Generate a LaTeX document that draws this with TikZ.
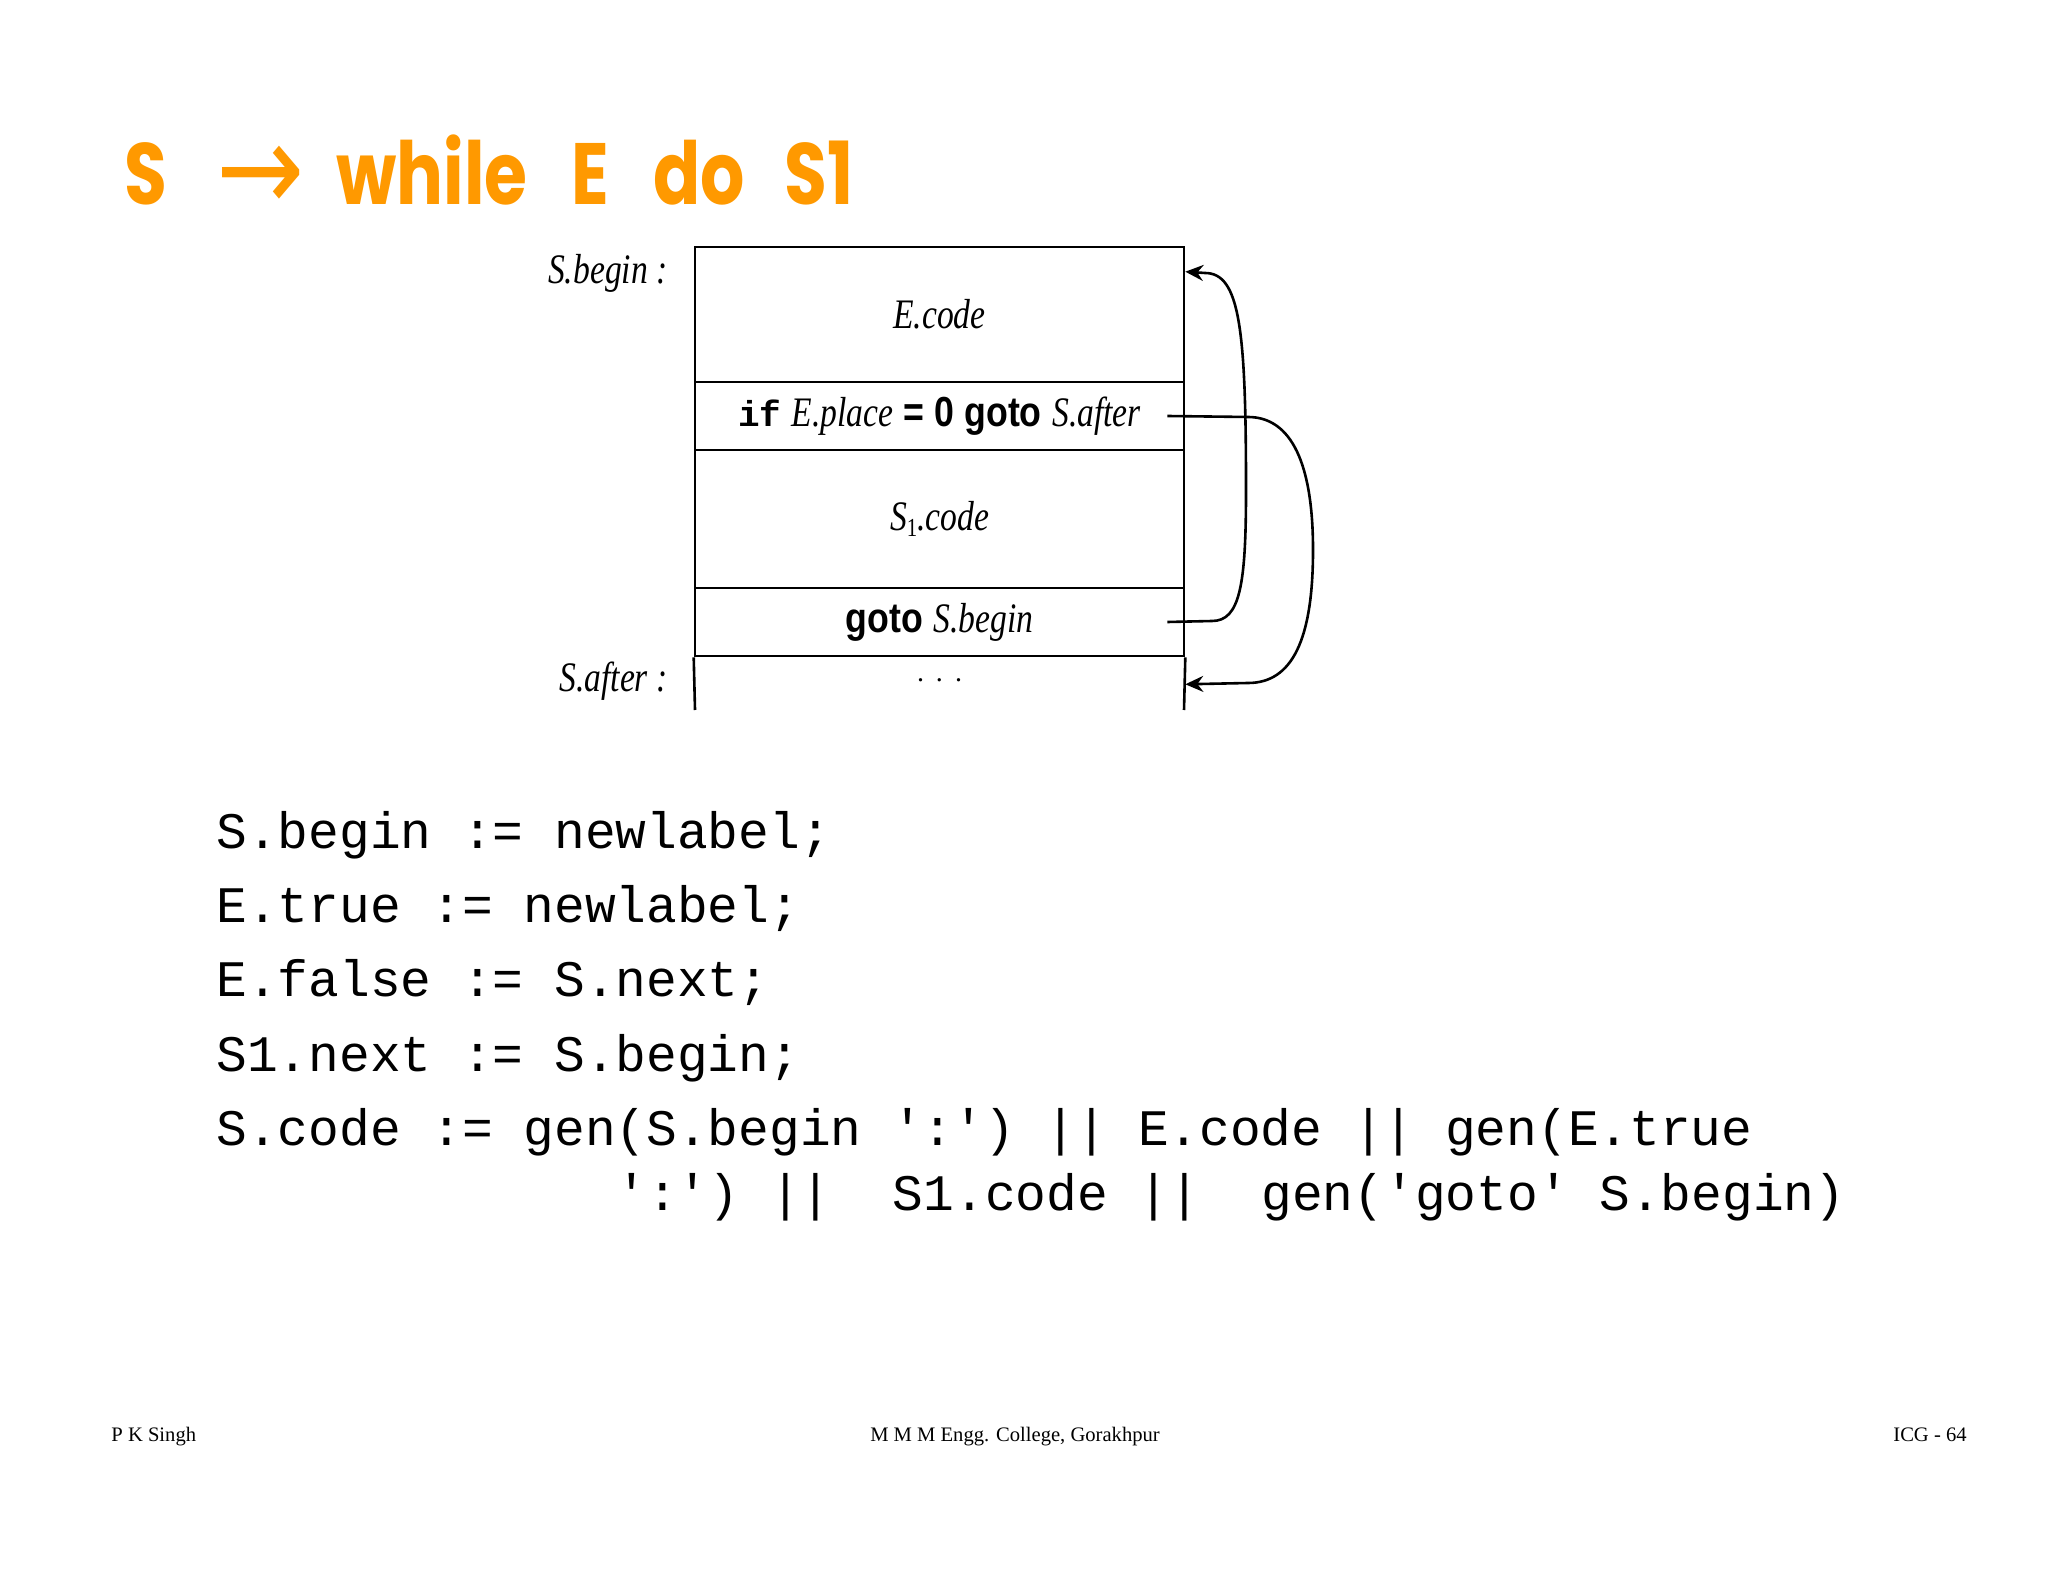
\documentclass[tikz,border=0pt]{standalone}
\usepackage{fontspec}
\setmainfont{Liberation Serif}
\setmonofont{Liberation Mono}
\newfontfamily\titlefont[FakeStretch=0.8]{Poppins}
\newfontfamily\arrowfont[FakeStretch=0.85]{DejaVu Sans}
\newfontfamily\diagit[FakeStretch=0.8]{Liberation Serif}
\newfontfamily\diagkw[FakeStretch=0.85]{Liberation Sans}
\usetikzlibrary{arrows.meta}
\definecolor{titleorange}{RGB}{255,153,0}
\tikzset{
  titletext/.style={anchor=base west, inner sep=0pt, text=titleorange, font=\titlefont\bfseries\fontsize{43.5}{50}\selectfont},
  row/.style={draw, line width=1.3pt, minimum width=244.5pt, inner sep=0pt, font=\fontsize{21}{25}\selectfont},
  sidelabel/.style={anchor=east, inner sep=0pt, font=\diagit\itshape\fontsize{21}{25}\selectfont},
  codeline/.style={anchor=base west, inner sep=0pt, font=\ttfamily\fontsize{25.6}{30}\selectfont},
  foot/.style={anchor=base, inner sep=0pt, font=\fontsize{10.3}{12}\selectfont},
  jump/.style={line width=1.3pt, -{Stealth[length=9pt,width=8pt,inset=3pt]}},
}
\begin{document}
\begin{tikzpicture}[x=0.5pt,y=-0.5pt]
\useasboundingbox[fill=white] (0,0) rectangle (2048,1582);

% title
\node[titletext] (tS) at (124,205) {S};
\node[anchor=base west, inner sep=0pt, text=titleorange, font=\arrowfont\fontsize{62}{66}\selectfont] (tarrow) at (216,212) {→};
\node[titletext] (twhile) at (336,205) {while};
\node[titletext] (tE) at (571,205) {E};
\node[titletext] (tdo) at (653,205) {do};
\node[titletext] (tS1) at (784,205) {S1};

% diagram rows
\node[row, minimum height=67.5pt] (ecode) at (939.5,314.5) {\diagit\itshape E.code};
\node[row, minimum height=34pt] (ifrow) at (939.5,416) {{\ttfamily\bfseries\fontsize{18}{20}\selectfont if} {\diagit\itshape E.place} {\diagkw\bfseries = 0 goto} {\diagit\itshape S.after}};
\node[row, minimum height=69pt] (s1code) at (939.5,519) {\diagit\itshape S\raisebox{-0.35ex}{\upshape\fontsize{13}{13}\selectfont 1}.code};
\node[row, minimum height=34pt] (gotorow) at (939.5,622) {{\diagkw\bfseries goto} {\diagit\itshape S.begin}};
\node[inner sep=0pt, font=\fontsize{14}{16}\selectfont] (dots) at (939.5,680) {.\hspace{6pt}.\hspace{6pt}.};
\coordinate (afterSW) at (695,710);
\coordinate (afterSE) at (1184,710);
\draw[line width=1.3pt] (gotorow.south west) -- (afterSW);
\draw[line width=1.3pt] (gotorow.south east) -- (afterSE);

% side labels
\node[sidelabel] (lbegin) at (668,273) {S.begin :};
\node[sidelabel] (lafter) at (668,681) {S.after :};

% jumps
\coordinate (startA) at ([xshift=-9pt]gotorow.east);
\coordinate (startB) at ([xshift=-9pt]ifrow.east);
\coordinate (endA) at ([yshift=-13pt]ecode.north east);
\coordinate (endB) at ([yshift=-13.5pt]gotorow.south east);
\draw[jump] (startA) -- (1212,621) .. controls (1240,621) and (1246,585) .. (1246,490)
   .. controls (1246,330) and (1240,273) .. (1205,273) -- (endA);
\draw[jump] (startB) -- (1248,417) .. controls (1292,417) and (1313,465) .. (1313,550)
   .. controls (1313,640) and (1292,683) .. (1248,683) -- (endB);

% code
\node[codeline] (c1) at (216,848) {S.begin := newlabel;};
\node[codeline] (c2) at (216,922) {E.true := newlabel;};
\node[codeline] (c3) at (216,996) {E.false := S.next;};
\node[codeline] (c4) at (216,1071) {S1.next := S.begin;};
\node[codeline] (c5) at (216,1145) {S.code := gen(S.begin ':') || E.code || gen(E.true};
\node[codeline] (c6) at (616,1210) {':') ||~~S1.code ||~~gen('goto' S.begin)};

% footer
\node[foot, anchor=base west] (fl) at (111,1441) {P K Singh};
\node[foot] (fc) at (1015,1441) {M M M Engg. College, Gorakhpur};
\node[foot, anchor=base east] (fr) at (1967,1441) {ICG - 64};
\end{tikzpicture}
\end{document}
